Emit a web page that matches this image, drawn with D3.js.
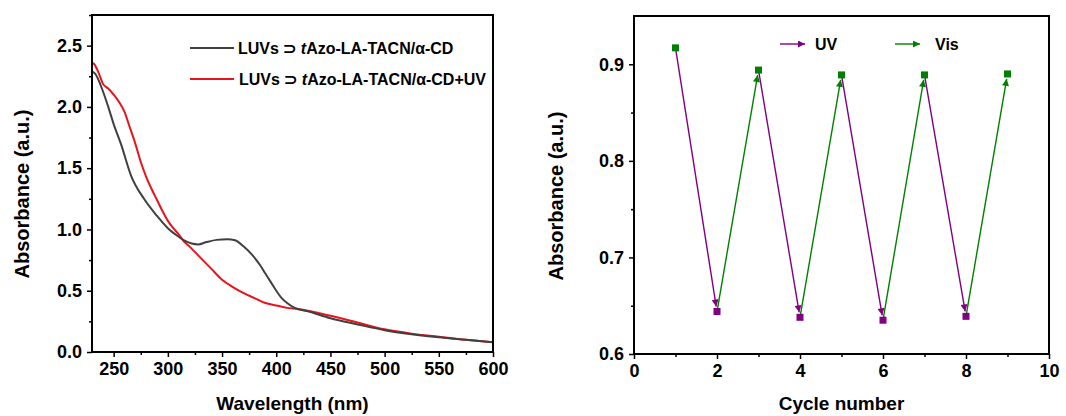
<!DOCTYPE html>
<html>
<head>
<meta charset="utf-8">
<script src="https://cdn.jsdelivr.net/npm/d3@7"></script>
<style>
  body { margin: 0; background: #fff; }
  text { font-family: "Liberation Sans", Arial, sans-serif; font-weight: bold; fill: #000; }
</style>
</head>
<body>
<svg id="fig" width="1066" height="416"></svg>
<script>
// left panel: UV-vis spectra
const wlDark = [230, 233, 240, 245, 250, 257, 266, 278, 290, 300, 310, 315, 322, 328, 335, 345, 355, 362, 370, 378, 385, 390, 395, 400, 405, 410, 417, 430, 450, 475, 500, 525, 550, 575, 600];
const absDark = [2.29, 2.27, 2.13, 2.00, 1.86, 1.69, 1.44, 1.25, 1.11, 1.01, 0.94, 0.91, 0.885, 0.878, 0.895, 0.915, 0.92, 0.912, 0.86, 0.79, 0.71, 0.64, 0.57, 0.50, 0.44, 0.40, 0.36, 0.33, 0.275, 0.225, 0.178, 0.145, 0.12, 0.10, 0.08];
const wlUV = [230, 232, 236, 240, 245, 250, 255, 260, 265, 270, 275, 280, 285, 290, 295, 300, 305, 310, 315, 320, 330, 340, 350, 360, 370, 380, 390, 400, 410, 420, 450, 475, 500, 525, 550, 575, 600];
const absUV = [2.36, 2.35, 2.28, 2.19, 2.15, 2.10, 2.04, 1.96, 1.83, 1.70, 1.55, 1.43, 1.33, 1.24, 1.15, 1.07, 1.01, 0.96, 0.90, 0.86, 0.77, 0.68, 0.59, 0.53, 0.48, 0.44, 0.40, 0.38, 0.36, 0.35, 0.295, 0.24, 0.185, 0.15, 0.125, 0.10, 0.08];
const specLabels = ['LUVs \u2283 ', 'Azo-LA-TACN/\u03b1-CD'];
const specSuffix = ['', '+UV'];

// right panel: switching cycles
const cycleNo = [1, 2, 3, 4, 5, 6, 7, 8, 9];
const cycleAbs = [0.917, 0.644, 0.894, 0.638, 0.889, 0.635, 0.889, 0.639, 0.890];
const cycleState = ['Vis', 'UV', 'Vis', 'UV', 'Vis', 'UV', 'Vis', 'UV', 'Vis'];

const svg = d3.select('#fig');
const col = { dark: '#404040', red: '#e8141c', UV: '#800080', Vis: '#008000' };

function frame(g, w, h) {
  g.append('rect')
    .attr('width', w).attr('height', h)
    .attr('fill', 'none').attr('stroke', '#000').attr('stroke-width', 2);
}

function axes(g, x, y, w, h, xMajor, xMinor, yMajor, yMinor, xFmt, yFmt) {
  g.append('g').attr('transform', 'translate(0,' + h + ')')
    .call(d3.axisBottom(x).tickValues(xMajor).tickSize(5).tickSizeOuter(0).tickPadding(5).tickFormat(xFmt));
  g.append('g').attr('transform', 'translate(0,' + h + ')')
    .call(d3.axisBottom(x).tickValues(xMinor).tickSize(3).tickSizeOuter(0).tickFormat(''));
  g.append('g')
    .call(d3.axisLeft(y).tickValues(yMajor).tickSize(5).tickSizeOuter(0).tickPadding(5).tickFormat(yFmt));
  g.append('g')
    .call(d3.axisLeft(y).tickValues(yMinor).tickSize(3).tickSizeOuter(0).tickFormat(''));
  g.selectAll('.domain').remove();
  g.selectAll('.tick line').attr('stroke', '#000').attr('stroke-width', 1.5);
  g.selectAll('.tick text').attr('font-size', 18).attr('font-family', '"Liberation Sans", Arial, sans-serif').attr('font-weight', 'bold');
}

// ---------- left panel ----------
const L = { left: 92, top: 15, w: 401, h: 337 };
const gl = svg.append('g').attr('transform', 'translate(' + L.left + ',' + L.top + ')');
const xL = d3.scaleLinear().domain([230, 600]).range([0, L.w]);
const yL = d3.scaleLinear().domain([0, 2.75]).range([L.h, 0]);

axes(gl, xL, yL, L.w, L.h,
  d3.range(250, 601, 50), d3.range(275, 600, 50),
  d3.range(0, 2.51, 0.5), d3.range(0.25, 2.76, 0.5),
  d3.format('d'), d3.format('.1f'));

const lineL = (xs, ys) => d3.line().x((d, i) => xL(xs[i])).y(d => yL(d)).curve(d3.curveMonotoneX)(ys);
gl.append('path').attr('d', lineL(wlUV, absUV))
  .attr('fill', 'none').attr('stroke', col.red).attr('stroke-width', 2);
gl.append('path').attr('d', lineL(wlDark, absDark))
  .attr('fill', 'none').attr('stroke', col.dark).attr('stroke-width', 2);
frame(gl, L.w, L.h);

// legend
[col.dark, col.red].forEach((c, i) => {
  const ly = 48 + i * 31;
  svg.append('line').attr('x1', 190).attr('x2', 234).attr('y1', ly).attr('y2', ly)
    .attr('stroke', c).attr('stroke-width', 2);
  const t = svg.append('text').attr('x', 238 + i).attr('y', ly + 6).attr('font-size', 16);
  t.append('tspan').text(specLabels[0]);
  t.append('tspan').attr('font-style', 'italic').text('t');
  t.append('tspan').text(specLabels[1] + specSuffix[i]);
});

svg.append('text').attr('x', L.left + L.w / 2).attr('y', 410)
  .attr('text-anchor', 'middle').attr('font-size', 19).text('Wavelength (nm)');
svg.append('text').attr('transform', 'translate(29,194) rotate(-90)')
  .attr('text-anchor', 'middle').attr('font-size', 20).text('Absorbance (a.u.)');

// ---------- right panel ----------
const R = { left: 634, top: 16, w: 415, h: 338 };
const gr = svg.append('g').attr('transform', 'translate(' + R.left + ',' + R.top + ')');
const xR = d3.scaleLinear().domain([0, 10]).range([0, R.w]);
const yR = d3.scaleLinear().domain([0.6, 0.95]).range([R.h, 0]);

axes(gr, xR, yR, R.w, R.h,
  d3.range(0, 11, 2), d3.range(1, 10, 2),
  [0.6, 0.7, 0.8, 0.9], [0.65, 0.75, 0.85],
  d3.format('d'), d3.format('.1f'));

const defs = svg.append('defs');
['UV', 'Vis'].forEach(k => {
  defs.append('marker').attr('id', 'ah-' + k)
    .attr('viewBox', '0 0 10 10').attr('refX', 10).attr('refY', 5)
    .attr('markerUnits', 'userSpaceOnUse').attr('markerWidth', 9).attr('markerHeight', 7)
    .attr('orient', 'auto')
    .append('path').attr('d', 'M0,0L10,5L0,10z').attr('fill', col[k]);
});

// arrows between successive cycles, coloured by the light applied next
for (let i = 0; i < cycleNo.length - 1; i++) {
  const x1 = xR(cycleNo[i]), y1 = yR(cycleAbs[i]);
  const x2 = xR(cycleNo[i + 1]), y2 = yR(cycleAbs[i + 1]);
  const len = Math.hypot(x2 - x1, y2 - y1);
  const k = (len - 5) / len;
  const light = cycleState[i + 1];
  gr.append('line')
    .attr('x1', x1).attr('y1', y1)
    .attr('x2', x1 + (x2 - x1) * k).attr('y2', y1 + (y2 - y1) * k)
    .attr('stroke', col[light]).attr('stroke-width', 1.4)
    .attr('marker-end', 'url(#ah-' + light + ')');
}

gr.selectAll('rect.pt').data(cycleNo).enter().append('rect')
  .attr('class', 'pt')
  .attr('x', (d, i) => xR(d) - 3.5).attr('y', (d, i) => yR(cycleAbs[i]) - 3.5)
  .attr('width', 7).attr('height', 7)
  .attr('fill', (d, i) => col[cycleState[i]]);

frame(gr, R.w, R.h);

// legend
[['UV', 780, 815], ['Vis', 895, 935]].forEach(([k, x0, tx]) => {
  svg.append('line').attr('x1', x0).attr('x2', x0 + 25).attr('y1', 44).attr('y2', 44)
    .attr('stroke', col[k]).attr('stroke-width', 1.4)
    .attr('marker-end', 'url(#ah-' + k + ')');
  svg.append('text').attr('x', tx).attr('y', 50).attr('font-size', 16).text(k);
});

svg.append('text').attr('x', R.left + R.w / 2).attr('y', 410)
  .attr('text-anchor', 'middle').attr('font-size', 19).text('Cycle number');
svg.append('text').attr('transform', 'translate(563,196) rotate(-90)')
  .attr('text-anchor', 'middle').attr('font-size', 20).text('Absorbance (a.u.)');
</script>
</body>
</html>
